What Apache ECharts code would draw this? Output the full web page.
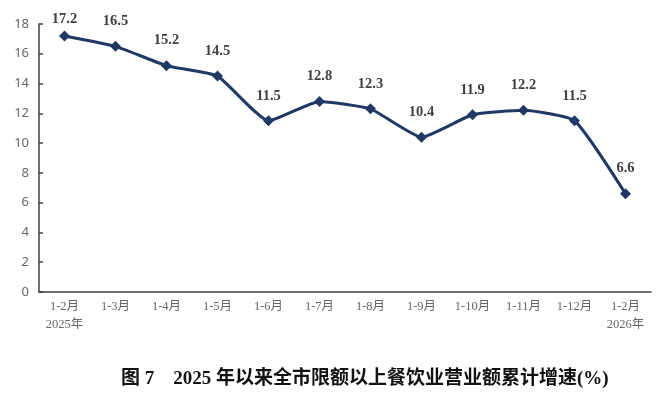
<!DOCTYPE html>
<html><head><meta charset="utf-8">
<script src="https://cdn.jsdelivr.net/npm/echarts@6/dist/echarts.min.js"></script>
<style>html,body{margin:0;padding:0;background:#fff}#c{width:663px;height:394px}</style>
</head><body><div id="c"></div>
<script>
const categories = ['1-2月\n2025年','1-3月','1-4月','1-5月','1-6月','1-7月','1-8月','1-9月','1-10月','1-11月','1-12月','1-2月\n2026年'];
const growth = [17.2,16.5,15.2,14.5,11.5,12.8,12.3,10.4,11.9,12.2,11.5,6.6];
const yTicks = [0,2,4,6,8,10,12,14,16,18];
const titleText = '图 7    2025 年以来全市限额以上餐饮业营业额累计增速(%)';

const chart = echarts.init(document.getElementById('c'));
chart.setOption({
  animation:false,
  title:{text:titleText,left:116,top:365,textStyle:{fontFamily:'Liberation Serif, Noto Sans CJK SC',fontWeight:'bold',fontSize:19,color:'#111'}},
  grid:{left:39,right:12,top:24,bottom:102,containLabel:false},
  xAxis:{type:'category',data:categories,boundaryGap:true,
    axisLine:{lineStyle:{color:'#404040',width:1.5}},
    axisTick:{inside:true,length:4,lineStyle:{color:'#404040',width:1.5}},
    axisLabel:{color:'#666',fontFamily:'Liberation Serif, Noto Sans CJK SC',fontSize:12.5,lineHeight:18,margin:6,interval:0}},
  yAxis:{type:'value',min:yTicks[0],max:yTicks[yTicks.length-1],interval:2,
    splitLine:{show:false},
    axisLine:{show:true,lineStyle:{color:'#404040',width:1.5}},
    axisTick:{show:true,inside:true,length:4,lineStyle:{color:'#404040',width:1.5}},
    axisLabel:{color:'#666',fontFamily:'Noto Sans',fontSize:13,margin:10}},
  series:[{type:'line',smooth:0.15,
    data:growth.map((v,i)=> i===0 ? {value:v,label:{distance:4}} : v),
    symbol:'diamond',symbolSize:11,
    lineStyle:{color:'#1F3864',width:3},
    itemStyle:{color:'#1F3864'},
    label:{show:true,position:'top',distance:12,color:'#404040',fontFamily:'Liberation Serif',fontWeight:'bold',fontSize:14.5}
  }]
});
</script></body></html>
